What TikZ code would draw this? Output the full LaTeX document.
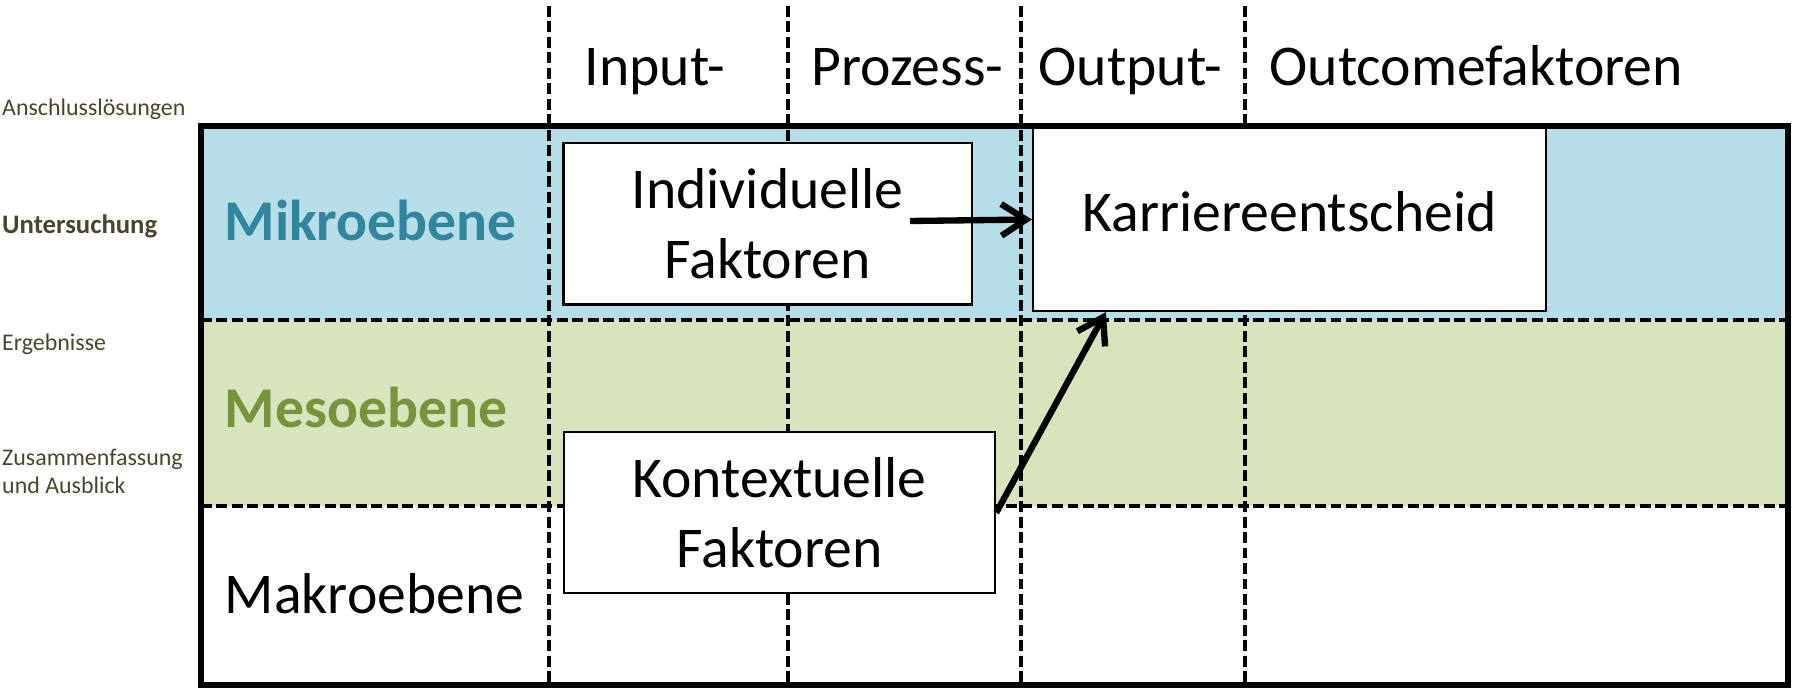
\documentclass[tikz,border=0pt]{standalone}
\usepackage{fontspec}
\setmainfont{Carlito}
\usetikzlibrary{arrows.meta}
\usetikzlibrary{calc}

\definecolor{mikroblau}{HTML}{B7DDE8}
\definecolor{mesogruen}{HTML}{D7E4BD}
\definecolor{mikrotext}{HTML}{31859C}
\definecolor{mesotext}{HTML}{77933C}
\definecolor{gliederung}{HTML}{4A452A}

\tikzset{
  raster/.style={dash pattern=on 3.1pt off 1.3pt, line width=0.95pt},
  faktor/.style={draw, fill=white, line width=0.6pt, align=center,
    font=\fontsize{16.4}{20}\selectfont},
  spalte/.style={anchor=base west, inner sep=0pt, font=\fontsize{16.4}{20}\selectfont},
  ebene/.style={anchor=base west, inner sep=0pt, font=\fontsize{16.4}{20}\selectfont},
  kapitel/.style={anchor=base west, inner sep=0pt, text=gliederung,
    font=\fontsize{6.8}{7.8}\selectfont},
}

\begin{document}
\begin{tikzpicture}[x=0.01cm, y=-0.01cm, >={Straight Barb[length=7pt,width=9pt]}]
            \useasboundingbox (0,0) rectangle (1796,688);
            \fill[mikroblau] (201,126) rectangle (1788,320);
            \fill[mesogruen] (201,320) rectangle (1788,506);
            \foreach \x in {549,788,1021,1245}
                \draw[raster] (\x,6) -- (\x,688);
            \foreach \y in {320,506}
                \draw[raster] (201,\y) -- (1788,\y);
            \node[spalte] (input) at (584,86) {Input-};
            \node[spalte] (prozess) at (811,86) {Prozess-};
            \node[spalte] (output) at (1038,86) {Output-};
            \node[spalte] (outcome) at (1269,86) {Outcomefaktoren};
            \node[ebene, text=mikrotext] (mikro) at (224,241) {\bfseries Mikroebene};
            \node[ebene, text=mesotext] (meso) at (224,428) {\bfseries Mesoebene};
            \node[ebene] (makro) at (224,613) {Makroebene};
            \node[kapitel] (anschluss) at (1.5,116) {Anschlusslösungen};
            \node[kapitel, font=\fontsize{7.6}{8}\selectfont\bfseries] (untersuchung) at (1.5,234) {Untersuchung};
            \node[kapitel] (ergebnisse) at (1.5,350.7) {Ergebnisse};
            \node[kapitel, align=left] (ausblick) at (1.5,493.3) {Zusammenfassung\\und Ausblick};
            \node[faktor, minimum width=4.08cm, minimum height=1.61cm] (ind) at (767.6,223.9) {Individuelle\\Faktoren};
            \node[faktor, minimum width=5.13cm, minimum height=1.83cm, text depth=0.16cm] (kar) at (1289.5,219.5) {Karriereentscheid};
            \node[faktor, minimum width=4.31cm, minimum height=1.61cm] (kon) at (779.5,512.8) {Kontextuelle\\Faktoren};
            \draw[line width=1.45pt] (201,126) rectangle (1788,685);
            \coordinate (indpfeil) at (910,221);
            \draw[->, line width=1.8pt] (indpfeil) -- (kar.west);
            \draw[->, line width=1.8pt] (kon.east) -- ([xshift=0.74cm]kar.south west);
        \end{tikzpicture}
\end{document}
